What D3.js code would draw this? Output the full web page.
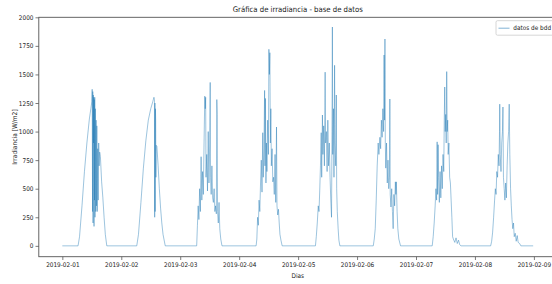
<!DOCTYPE html>
<html>
<head>
<meta charset="utf-8">
<script src="https://cdn.jsdelivr.net/npm/d3@7"></script>
<style>
  body { margin: 0; background: #fff; }
  text { font-family: "DejaVu Sans Condensed", "DejaVu Sans", sans-serif; fill: #222; }
</style>
</head>
<body>
<div id="chart"></div>
<script>
// irradiance readings per day, [hour of day, W/m2]
let day1 = [[0, 0], [6.4, 0], [7.0, 80], [8.0, 350], [9.0, 650], [10.0, 900], [11.0, 1110], [11.6, 1200], [12.0, 1260],
    [12.15, 1370], [12.3, 300], [12.4, 1350], [12.5, 200], [12.6, 1320], [12.7, 900], [12.8, 1300], [12.9, 170],
    [13.0, 1280], [13.1, 400], [13.2, 1300], [13.3, 250], [13.45, 1200], [13.6, 300], [13.75, 1100], [13.9, 350],
    [14.05, 1050], [14.2, 300], [14.4, 850], [14.6, 400], [14.8, 900], [15.0, 700], [15.2, 820], [15.5, 780],
    [16.0, 560], [16.5, 420], [17.0, 250], [17.5, 100], [18.1, 0]];
let day2 = [[6.3, 0], [7.0, 100], [8.0, 380], [9.0, 680], [10.0, 920], [11.0, 1100], [12.0, 1200], [12.8, 1260],
    [13.3, 1300], [13.5, 1280], [13.6, 250], [13.7, 1250], [13.8, 300], [13.9, 1200], [14.0, 1100], [14.1, 600],
    [14.2, 880], [14.5, 870], [15.0, 700], [15.5, 500], [16.0, 330], [16.5, 200], [17.0, 100], [17.9, 0]];
let day3 = [[6.7, 0], [7.0, 180], [7.3, 350], [7.6, 230], [7.9, 500], [8.2, 300], [8.5, 780], [8.8, 400], [9.1, 650],
    [9.4, 450], [9.7, 900], [10.0, 1310], [10.2, 1200], [10.35, 1300], [10.5, 600], [10.8, 800], [11.1, 480],
    [11.4, 1000], [11.7, 550], [12.0, 900], [12.2, 1430], [12.35, 600], [12.6, 450], [12.9, 700], [13.2, 420],
    [13.5, 380], [13.8, 500], [14.1, 300], [14.4, 350], [14.7, 280], [14.9, 1280], [15.05, 1150], [15.2, 300],
    [15.5, 200], [15.8, 380], [16.1, 150], [16.5, 60], [17.0, 0]];
let day4 = [[6.9, 0], [7.2, 60], [7.5, 250], [7.8, 180], [8.1, 400], [8.4, 300], [8.7, 550], [9.0, 750], [9.3, 470],
    [9.6, 990], [9.8, 600], [10.1, 850], [10.35, 1360], [10.5, 700], [10.7, 1290], [10.9, 550], [11.1, 900],
    [11.3, 650], [11.6, 1100], [11.9, 800], [12.1, 1720], [12.3, 1500], [12.5, 1690], [12.7, 900], [12.9, 1200],
    [13.1, 700], [13.4, 850], [13.7, 560], [14.0, 600], [14.3, 450], [14.6, 800], [14.9, 380], [15.2, 1040],
    [15.4, 350], [15.7, 270], [16.0, 320], [16.3, 200], [16.6, 100], [17.0, 50], [17.5, 0]];
let day5 = [[7.05, 0], [7.4, 80], [7.8, 200], [8.2, 350], [8.5, 300], [8.8, 480], [9.1, 700], [9.4, 990], [9.6, 600],
    [9.9, 1145], [10.1, 800], [10.4, 1050], [10.7, 700], [11.0, 1520], [11.2, 900], [11.5, 1000], [11.8, 650],
    [12.1, 1100], [12.4, 700], [12.7, 900], [13.0, 600], [13.3, 400], [13.6, 250], [13.8, 1000], [13.95, 1915],
    [14.1, 800], [14.4, 1200], [14.6, 600], [14.85, 1580], [15.0, 900], [15.3, 700], [15.55, 1320], [15.7, 500],
    [15.95, 300], [16.3, 150], [16.6, 50], [17.0, 0]];
let day6 = [[6.6, 0], [7.0, 60], [7.4, 150], [7.8, 400], [8.2, 700], [8.6, 900], [8.9, 800], [9.3, 950], [9.6, 850],
    [9.9, 1100], [10.2, 950], [10.5, 1200], [10.8, 1000], [11.0, 1670], [11.2, 1100], [11.35, 1810], [11.5, 900],
    [11.7, 680], [12.0, 900], [12.3, 550], [12.6, 750], [12.9, 500], [13.2, 600], [13.35, 1285], [13.5, 450],
    [13.8, 340], [14.1, 500], [14.4, 300], [14.7, 150], [15.0, 450], [15.3, 350], [15.6, 560], [15.8, 450],
    [16.0, 560], [16.3, 300], [16.6, 150], [17.0, 60], [17.7, 0]];
let day7 = [[6.6, 0], [7.0, 80], [7.4, 200], [7.8, 350], [8.1, 500], [8.4, 400], [8.6, 910], [8.8, 450], [9.0, 885],
    [9.2, 600], [9.5, 380], [9.8, 650], [10.1, 420], [10.4, 700], [10.7, 500], [11.0, 800], [11.3, 650], [11.5, 1100],
    [11.7, 1390], [11.9, 1000], [12.1, 1150], [12.3, 900], [12.5, 1525], [12.7, 1000], [12.9, 1100], [13.1, 800],
    [13.4, 900], [13.7, 600], [14.0, 550], [14.3, 400], [14.6, 250], [14.9, 80], [15.2, 60], [15.8, 30], [16.3, 70],
    [16.8, 20], [17.3, 50], [17.8, 10], [18.3, 0]];
let day8 = [[6.4, 0], [6.8, 40], [7.2, 120], [7.6, 250], [8.0, 400], [8.3, 500], [8.6, 450], [8.9, 650], [9.2, 600],
    [9.5, 800], [9.8, 700], [10.0, 1000], [10.1, 1240], [10.3, 800], [10.6, 650], [10.9, 900], [11.2, 1000],
    [11.4, 1215], [11.6, 600], [11.9, 500], [12.2, 400], [12.5, 550], [12.8, 420], [13.1, 700], [13.4, 900],
    [13.7, 1000], [13.95, 1240], [14.2, 800], [14.5, 500], [14.8, 350], [15.1, 230], [15.4, 150], [15.7, 200],
    [16.0, 80], [16.4, 110], [16.8, 40], [17.2, 90], [17.6, 30], [18.2, 20], [18.7, 0], [23.7, 0]];

let days = [day1, day2, day3, day4, day5, day6, day7, day8];
let startDay = Date.UTC(2019, 1, 1);
let yTicks = [0, 250, 500, 750, 1000, 1250, 1500, 1750, 2000];

let width = 552, height = 284;
let margin = { top: 17.3, bottom: 27.3, left: 38.8, right: -4.7 };

let svg = d3.select("#chart")
    .append("svg")
    .attr("width", width)
    .attr("height", height);

// flatten the days into one time series
let data = [];
days.forEach(function (day, i) {
    day.forEach(function (p) {
        data.push({ t: new Date(startDay + (i * 24 + p[0]) * 3600e3), v: p[1] });
    });
});

let ext = d3.extent(data, d => d.t);
let pad = (ext[1] - ext[0]) * 0.05;
let x = d3.scaleUtc()
    .domain([new Date(+ext[0] - pad), new Date(+ext[1] + pad)])
    .range([margin.left, width - margin.right]);

let y = d3.scaleLinear()
    .domain([-95, 2000])
    .range([height - margin.bottom, margin.top]);

let plotW = width - margin.right - margin.left;
let plotH = height - margin.bottom - margin.top;

// series
svg.append("path")
    .datum(data)
    .attr("fill", "none")
    .attr("stroke", "#1f77b4")
    .attr("stroke-opacity", 0.8)
    .attr("stroke-width", 0.55)
    .attr("stroke-linejoin", "round")
    .attr("d", d3.line().x(d => x(d.t)).y(d => y(d.v)));

// axes
let xAxis = svg.append("g")
    .attr("transform", "translate(0," + (height - margin.bottom) + ")")
    .call(d3.axisBottom(x)
        .ticks(d3.utcDay.every(1))
        .tickFormat(d3.utcFormat("%Y-%m-%d"))
        .tickSize(3.3)
        .tickPadding(2));

let yAxis = svg.append("g")
    .attr("transform", "translate(" + margin.left + ",0)")
    .call(d3.axisLeft(y)
        .tickValues(yTicks)
        .tickFormat(d3.format("d"))
        .tickSize(3.3)
        .tickPadding(2));

[xAxis, yAxis].forEach(function (g) {
    g.select(".domain").remove();
    g.selectAll(".tick line").attr("stroke", "#444").attr("stroke-width", 0.7);
    g.selectAll(".tick text").attr("font-size", 6.4).attr("fill", "#222")
        .attr("font-family", "DejaVu Sans Condensed, DejaVu Sans, sans-serif");
});

// spines
svg.append("rect")
    .attr("x", margin.left)
    .attr("y", margin.top)
    .attr("width", plotW)
    .attr("height", plotH)
    .attr("fill", "none")
    .attr("stroke", "#555")
    .attr("stroke-width", 0.9);

// title & labels
svg.append("text")
    .attr("x", margin.left + plotW / 2)
    .attr("y", 11.8)
    .attr("text-anchor", "middle")
    .attr("font-size", 7.7)
    .text("Gráfica de irradiancia - base de datos");

svg.append("text")
    .attr("x", margin.left + plotW / 2)
    .attr("y", 278)
    .attr("text-anchor", "middle")
    .attr("font-size", 6.4)
    .text("Dias");

svg.append("text")
    .attr("transform", "translate(16.6," + (margin.top + plotH / 2) + ") rotate(-90)")
    .attr("text-anchor", "middle")
    .attr("font-size", 6.6)
    .text("Irradiancia [W/m2]");

// legend
let legend = svg.append("g").attr("transform", "translate(496,20.7)");
legend.append("rect")
    .attr("width", 62)
    .attr("height", 14.5)
    .attr("rx", 1.5)
    .attr("fill", "#fff")
    .attr("stroke", "#ccc")
    .attr("stroke-width", 0.8);
legend.append("line")
    .attr("x1", 2.5).attr("x2", 13.5)
    .attr("y1", 7.5).attr("y2", 7.5)
    .attr("stroke", "#1f77b4")
    .attr("stroke-opacity", 0.8)
    .attr("stroke-width", 0.7);
legend.append("text")
    .attr("x", 17.3)
    .attr("y", 9.8)
    .attr("font-size", 6.4)
    .text("datos de bdd");
</script>
</body>
</html>
